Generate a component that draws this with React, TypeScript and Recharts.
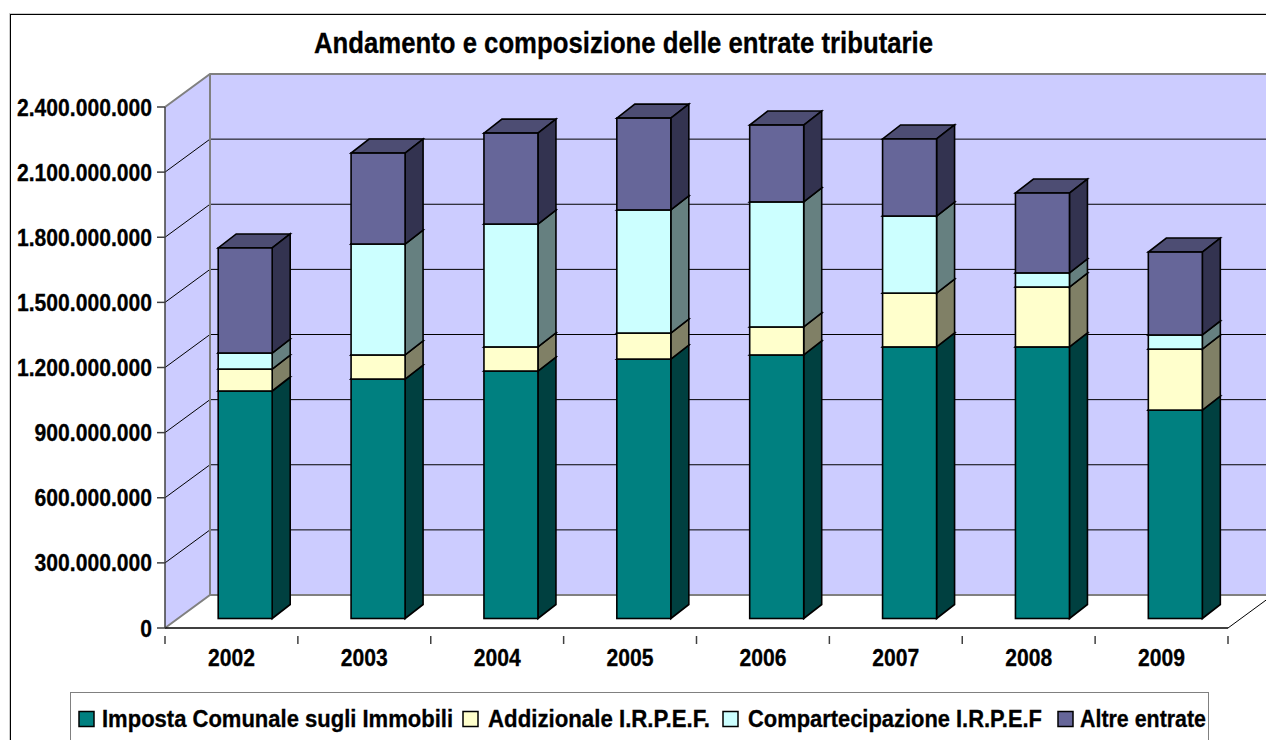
import React from "react";
import { BarChart, Bar, XAxis, YAxis, ReferenceArea, Legend } from "recharts";

const years = ["2002", "2003", "2004", "2005", "2006", "2007", "2008", "2009"];
const ici = [1048, 1103, 1140, 1195, 1214, 1251, 1251, 960];
const addizionale = [101, 111, 111, 120, 129, 248, 276, 281];
const compartecipazione = [74, 511, 566, 567, 576, 355, 65, 65];
const altre = [484, 419, 419, 423, 354, 355, 368, 382];
const yTicks = [0, 300, 600, 900, 1200, 1500, 1800, 2100, 2400].map((v) => v * 1000000);
const yMax = 2400000000;

const seriesNames = ["Imposta Comunale sugli Immobili", "Addizionale I.R.P.E.F.", "Compartecipazione I.R.P.E.F", "Altre entrate"];
const title = "Andamento e composizione delle entrate tributarie";

const data = years.map((year, i) => ({
  year,
  ici: ici[i] * 1000000,
  add: addizionale[i] * 1000000,
  comp: compartecipazione[i] * 1000000,
  altre: altre[i] * 1000000,
}));

const FONT = "'Liberation Sans', Arial, sans-serif";
const WALL_DX = 45;
const WALL_DY = 33;
const BAR_DX = 18;
const BAR_DY = 14;
const OFFSET_X = 14.2;
const OFFSET_Y = 9.5;
const BAND = 132.875;

const fmt = (v: number) => String(v).replace(/\B(?=(\d{3})+$)/g, ".");

function Walls(props: any) {
  const { x, y, width, height } = props;
  const bottom = y + height;
  const right = x + width;
  const bx = x + WALL_DX;
  const lines = yTicks.map((t) => y + height * (1 - t / yMax));
  return (
    <g>
      <polygon points={`${x},${y} ${bx},${y - WALL_DY} ${bx},${bottom - WALL_DY} ${x},${bottom}`} fill="#CCCCFF" />
      <rect x={bx} y={y - WALL_DY} width={width} height={height} fill="#CCCCFF" />
      {lines.slice(1, -1).map((ly, i) => (
        <polyline key={i} points={`${x},${ly} ${bx},${ly - WALL_DY} ${right + WALL_DX},${ly - WALL_DY}`} fill="none" stroke="#000" strokeWidth={1} />
      ))}
      <polyline points={`${x},${y} ${bx},${y - WALL_DY} ${right + WALL_DX},${y - WALL_DY}`} fill="none" stroke="#808080" strokeWidth={2} />
      <line x1={bx} y1={y - WALL_DY} x2={bx} y2={bottom - WALL_DY} stroke="#808080" strokeWidth={2} />
      <polyline points={`${x},${bottom} ${bx},${bottom - WALL_DY} ${right + WALL_DX},${bottom - WALL_DY}`} fill="none" stroke="#808080" strokeWidth={2} />
      <line x1={right} y1={bottom} x2={right + WALL_DX} y2={bottom - WALL_DY} stroke="#000" strokeWidth={1} />
    </g>
  );
}

const box3d = (front: string, side: string, top: string) => (props: any) => {
  const { x, y, width, height } = props;
  const fx = x + OFFSET_X;
  const fy = y - OFFSET_Y;
  const r = fx + width;
  const b = fy + height;
  return (
    <g stroke="#000" strokeWidth={1.6} strokeLinejoin="miter">
      <polygon points={`${fx},${fy} ${r},${fy} ${r + BAR_DX},${fy - BAR_DY} ${fx + BAR_DX},${fy - BAR_DY}`} fill={top} />
      <polygon points={`${r},${fy} ${r + BAR_DX},${fy - BAR_DY} ${r + BAR_DX},${b - BAR_DY} ${r},${b}`} fill={side} />
      <rect x={fx} y={fy} width={width} height={height} fill={front} />
    </g>
  );
};

const YTick = (props: any) => {
  const { y, payload } = props;
  return (
    <g>
      <line x1={157} y1={y} x2={165} y2={y} stroke="#404040" strokeWidth={1.5} />
      <text transform={`translate(152,${y + 8.5}) scale(0.88,1)`} textAnchor="end" fontFamily={FONT} fontWeight="bold" fontSize={24} fill="#000" stroke="#000" strokeWidth={0.3}>
        {fmt(payload.value)}
      </text>
    </g>
  );
};

const XTick = (props: any) => {
  const { x, y, payload, index } = props;
  const left = x - BAND / 2;
  return (
    <g>
      <line x1={left} y1={y} x2={left} y2={y + 8} stroke="#404040" strokeWidth={1.5} />
      {index === years.length - 1 && <line x1={x + BAND / 2} y1={y} x2={x + BAND / 2} y2={y + 8} stroke="#404040" strokeWidth={1.5} />}
      <text transform={`translate(${x},666) scale(0.88,1)`} textAnchor="middle" fontFamily={FONT} fontWeight="bold" fontSize={24} fill="#000" stroke="#000" strokeWidth={0.3}>
        {payload.value}
      </text>
    </g>
  );
};

const legendLayout = [
  { sx: 9, tx: 32, tw: 351 },
  { sx: 393, tx: 418, tw: 222 },
  { sx: 653, tx: 678, tw: 294 },
  { sx: 988, tx: 1010, tw: 126 },
];

const LegendContent = (props: any) => {
  const items = props.payload || [];
  return (
    <svg width={1139} height={50} style={{ display: "block", background: "#fff" }}>
      <rect x={0.5} y={0.5} width={1138} height={60} fill="#fff" stroke="#808080" strokeWidth={1} />
      {items.map((it: any, i: number) => {
        const l = legendLayout[i];
        return (
          <g key={i}>
            <rect x={l.sx} y={19.5} width={15} height={15} fill={it.color} stroke="#000" strokeWidth={1.5} />
            <text x={l.tx} y={35} textLength={l.tw} lengthAdjust="spacingAndGlyphs" fontFamily={FONT} fontWeight="bold" fontSize={23} fill="#000" stroke="#000" strokeWidth={0.3}>
              {it.value}
            </text>
          </g>
        );
      })}
    </svg>
  );
};

export default function App() {
  return (
    <div style={{ position: "absolute", left: 0, top: 0, width: 1266, height: 740, overflow: "hidden", background: "#fff" }}>
      <div style={{ position: "absolute", left: 10, top: 14, width: 1300, height: 800, borderTop: "1.5px solid #000", borderLeft: "1.5px solid #000", boxShadow: "-1px -1px 0 #ccc" }} />
      <BarChart
        width={1266}
        height={740}
        data={data}
        margin={{ top: 107, right: 38, bottom: 24, left: 0 }}
        barCategoryGap={0}
        style={{ position: "absolute", left: 0, top: 0 }}
      >
        <ReferenceArea y1={0} y2={yMax} ifOverflow="visible" shape={Walls} />
        <XAxis dataKey="year" height={40} tickLine={false} axisLine={{ stroke: "#000", strokeWidth: 1.5 }} tick={XTick} interval={0} />
        <YAxis width={165} domain={[0, yMax]} ticks={yTicks} tickLine={false} axisLine={{ stroke: "#404040", strokeWidth: 1.5 }} tick={YTick} interval={0} />
        <Bar dataKey="ici" name={seriesNames[0]} stackId="a" barSize={54} fill="#008080" isAnimationActive={false} shape={box3d("#008080", "#004040", "#006666")} />
        <Bar dataKey="add" name={seriesNames[1]} stackId="a" barSize={54} fill="#FFFFCC" isAnimationActive={false} shape={box3d("#FFFFCC", "#808066", "#CCCCA3")} />
        <Bar dataKey="comp" name={seriesNames[2]} stackId="a" barSize={54} fill="#CCFFFF" isAnimationActive={false} shape={box3d("#CCFFFF", "#668080", "#A3CCCC")} />
        <Bar dataKey="altre" name={seriesNames[3]} stackId="a" barSize={54} fill="#666699" isAnimationActive={false} shape={box3d("#666699", "#333350", "#4D4D73")} />
        <Legend content={LegendContent} itemSorter={null as any} wrapperStyle={{ position: "absolute", left: 70, top: 692, bottom: "auto", width: 1139, height: 48 }} />
      </BarChart>
      <svg width={1266} height={70} style={{ position: "absolute", left: 0, top: 0, pointerEvents: "none" }}>
        <text x={314} y={53} textLength={619} lengthAdjust="spacingAndGlyphs" fontFamily={FONT} fontWeight="bold" fontSize={30} fill="#000" stroke="#000" strokeWidth={0.3}>
          {title}
        </text>
      </svg>
    </div>
  );
}
